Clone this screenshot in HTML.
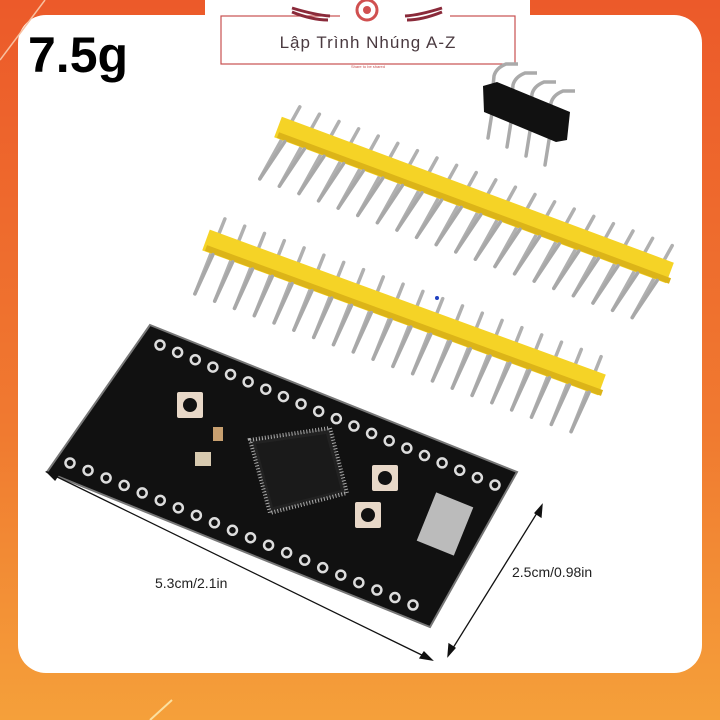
<!DOCTYPE html>
<html><head><meta charset="utf-8"><style>
html,body{margin:0;padding:0;width:720px;height:720px;overflow:hidden;background:linear-gradient(#ec5a2a,#f07a30 60%,#f5a03a);}
svg{position:absolute;left:0;top:0}
</style></head><body>
<svg id="s" width="720" height="720" viewBox="0 0 720 720" xmlns="http://www.w3.org/2000/svg">
<rect x="18" y="15" width="684" height="658" rx="28" fill="#fff"/>
<line x1="0" y1="60" x2="45" y2="0" stroke="#f8c0a0" stroke-width="1.5"/>
<line x1="150" y1="720" x2="172" y2="700" stroke="#fbe0a0" stroke-width="2"/>
<rect x="205" y="0" width="325" height="75" fill="#fff"/>
<rect x="221" y="16" width="294" height="48" fill="none" stroke="#c85050" stroke-width="1.2"/>
<rect x="340" y="0" width="110" height="18" fill="#fff"/>
<circle cx="367" cy="10" r="10" fill="none" stroke="#d05050" stroke-width="3"/>
<circle cx="367" cy="10" r="4" fill="#d05050"/>
<path d="M292 8 Q315 15 330 16 M292 12 Q312 20 328 20" stroke="#8a2a3a" stroke-width="3" fill="none"/>
<path d="M442 8 Q420 15 405 16 M442 12 Q422 20 407 20" stroke="#8a2a3a" stroke-width="3" fill="none"/>
<text x="368" y="48" font-family="Liberation Sans,sans-serif" font-size="17" fill="#4a3a40" text-anchor="middle" letter-spacing="1">Lập Trình Nhúng A-Z</text>
<text x="368" y="68" font-family="Liberation Sans,sans-serif" font-size="4" fill="#c85050" text-anchor="middle">Share to be shared</text>
<text x="28" y="72" font-family="Liberation Sans,sans-serif" font-weight="bold" font-size="50" fill="#000">7.5g</text>
<g id="hdr"></g>
<g id="board"></g>
<circle cx="437" cy="298" r="2" fill="#2040c0"/>
<g stroke="#111" stroke-width="1.3" fill="#111">
<line x1="47" y1="472" x2="432" y2="660"/>
<path d="M47 472 l12 2 l-4 6z"/><path d="M432 660 l-12 -2 l4 -6z"/>
<line x1="542" y1="505" x2="448" y2="656"/>
<path d="M542 505 l-1 12 l-6 -4z"/><path d="M448 656 l1 -12 l6 4z"/>
</g>
<text x="155" y="588" font-family="Liberation Sans,sans-serif" font-size="14" fill="#222">5.3cm/2.1in</text>
<text x="512" y="577" font-family="Liberation Sans,sans-serif" font-size="14" fill="#222">2.5cm/0.98in</text>
</svg>
<script>
var NS="http://www.w3.org/2000/svg",h=document.getElementById("hdr"),b=document.getElementById("board");
function el(p,t,a){var e=document.createElementNS(NS,t);for(var k in a)e.setAttribute(k,a[k]);p.appendChild(e);return e;}
function header(ax,ay,bx,by,dx,dy){
 var n=20;
 for(var i=0;i<n;i++){var t=(i+0.5)/n,x=ax+(bx-ax)*t,y=ay+(by-ay)*t;
  el(h,"line",{x1:x+dx*0.3,y1:y-dy*0.33,x2:x-dx*0.7,y2:y+dy*0.67,stroke:"#b0b0b0","stroke-width":3.5,"stroke-linecap":"round"});}
 el(h,"line",{x1:ax,y1:ay,x2:bx,y2:by,stroke:"#f5d326","stroke-width":22});
 el(h,"line",{x1:ax,y1:ay+8,x2:bx,y2:by+8,stroke:"#dcb418","stroke-width":6});
 for(var i=0;i<n;i++){var t=(i+0.5)/n,x=ax+(bx-ax)*t,y=ay+(by-ay)*t;
  el(h,"line",{x1:x-3,y1:y+11,x2:x-dx*0.7,y2:y+dy*0.67,stroke:"#a8a8a8","stroke-width":3.5,"stroke-linecap":"round"});}
}
header(278,127,670,273,40,72);
header(206,240,602,385,30,75);
for(var i=0;i<4;i++){var x=488+i*19,y=88+i*9;
 el(h,"path",{d:"M"+(x+4)+" "+(y+10)+" L"+(x+6)+" "+(y-12)+" Q"+(x+8)+" "+(y-20)+" "+(x+18)+" "+(y-24)+" L"+(x+30)+" "+(y-24),stroke:"#aaa","stroke-width":3.5,fill:"none"});
 el(h,"line",{x1:x+4,y1:y+25,x2:x,y2:y+50,stroke:"#aaa","stroke-width":3.5,"stroke-linecap":"round"});}
el(h,"polygon",{points:"483,86 497,82 570,112 567,140 556,142 484,112",fill:"#111"});
el(b,"polygon",{points:"150,325 517,472 430,627 47,472",fill:"#111",stroke:"#777","stroke-width":2});
function row(ax,ay,bx,by,n){for(var i=0;i<n;i++){var t=i/(n-1),x=ax+(bx-ax)*t,y=ay+(by-ay)*t;
 el(b,"circle",{cx:x,cy:y,r:4.5,fill:"#111",stroke:"#ddd","stroke-width":2.5});}}
row(160,345,495,485,20);
row(70,463,413,605,20);
el(b,"polygon",{points:"250,440 330,428 347,493 270,513",fill:"#222",stroke:"#aaa","stroke-width":4,"stroke-dasharray":"1 2"});
el(b,"polygon",{points:"256,444 326,434 341,490 273,507",fill:"#1a1a1a"});
function btn(x,y){el(b,"rect",{x:x-13,y:y-13,width:26,height:26,fill:"#e8d8c8",rx:2});el(b,"circle",{cx:x,cy:y,r:7,fill:"#111"});}
btn(190,405);btn(385,478);btn(368,515);
el(b,"rect",{x:425,y:498,width:40,height:52,fill:"#bbb",transform:"rotate(22 445 524)"});
el(b,"rect",{x:195,y:452,width:16,height:14,fill:"#d8cab0"});
el(b,"rect",{x:213,y:427,width:10,height:14,fill:"#c8a070"});
</script>
</body></html>
